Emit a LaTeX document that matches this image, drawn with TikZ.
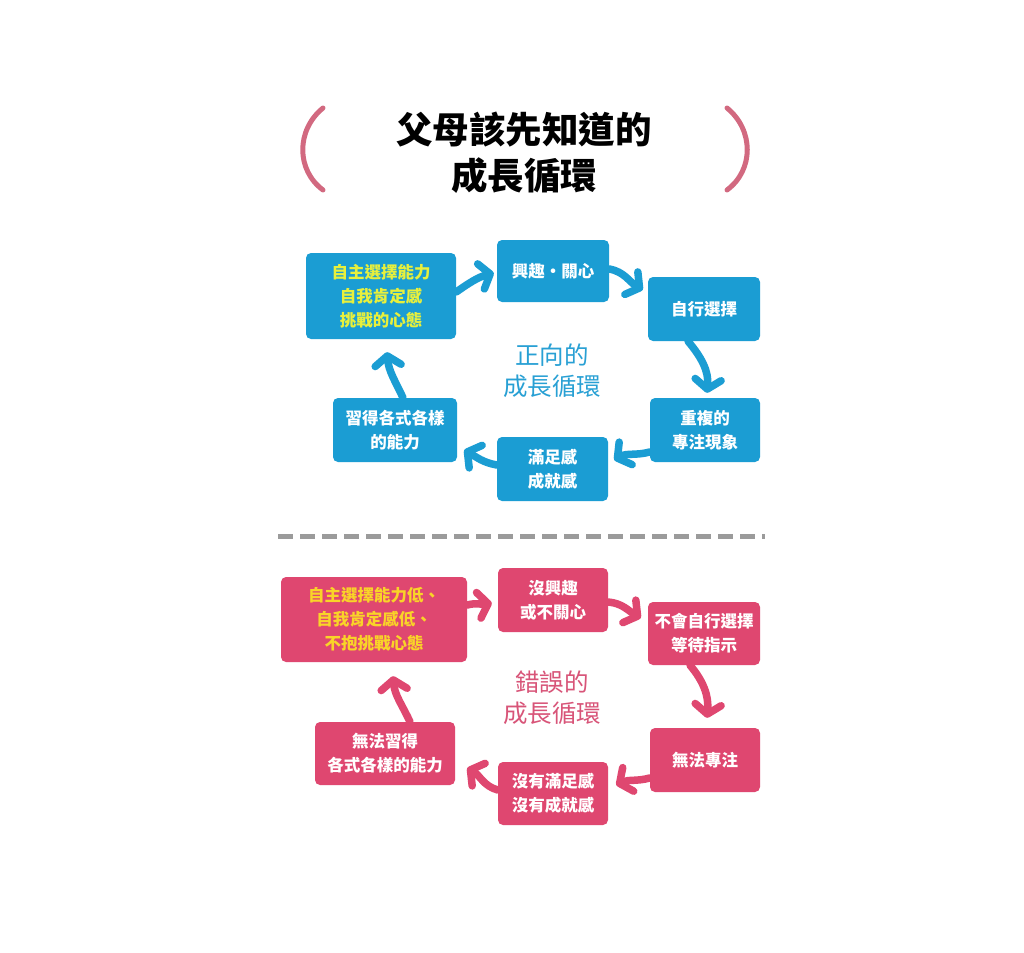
\documentclass[tikz,border=0pt]{standalone}
\usepackage{fontspec}
\setmainfont{Noto Sans CJK TC}
\usetikzlibrary{arrows.meta,calc}
\definecolor{cblue}{RGB}{27,157,211}
\definecolor{cpink}{RGB}{223,71,112}
\definecolor{cyel}{RGB}{232,240,60}
\definecolor{corange}{RGB}{249,212,40}
\definecolor{cparen}{RGB}{210,105,128}
\definecolor{cbluetxt}{RGB}{40,160,212}
\definecolor{cpinktxt}{RGB}{216,84,120}
\definecolor{cdash}{RGB}{155,155,155}
\tikzset{
 box/.style={rounded corners=5pt, align=center, inner sep=0pt, font=\fontsize{16.5}{24}\selectfont\bfseries, text=white},
 bbox/.style={box, fill=cblue},
 pbox/.style={box, fill=cpink},
 arr/.style={line width=7.5pt, line cap=round, -{Straight Barb[length=9.5pt,width=26pt,round]}},
 barr/.style={arr, draw=cblue},
 parr/.style={arr, draw=cpink},
 ctext/.style={align=center, font=\fontsize{24.5}{31}\selectfont},
 paren/.style={draw=cparen, line width=5pt, line cap=round},
}
\begin{document}
\begin{tikzpicture}[x=1pt,y=1pt]
\path[use as bounding box, fill=white] (0,0) rectangle (1024,-952);

% title
\draw[paren] (323,-108) .. controls (296,-130) and (296,-170) .. (323,-190);
\draw[paren] (727,-108) .. controls (754,-130) and (754,-170) .. (727,-190);
\node[align=center, font=\fontsize{36.5}{46}\selectfont\bfseries] (title) at (524,-153) {父母該先知道的\\成長循環};

% top cycle
\node[bbox, minimum width=150pt, minimum height=86pt, text=cyel] (A) at (381,-296) {自主選擇能力\\自我肯定感\\挑戰的心態};
\node[bbox, minimum width=112pt, minimum height=62pt] (B) at (553,-271) {興趣・關心};
\node[bbox, minimum width=112pt, minimum height=64pt] (C) at (704,-309) {自行選擇};
\node[bbox, minimum width=110pt, minimum height=64pt] (D) at (705,-430) {重複的\\專注現象};
\node[bbox, minimum width=111pt, minimum height=64pt] (E) at (552.5,-469) {滿足感\\成就感};
\node[bbox, minimum width=124pt, minimum height=64pt] (F) at (395,-430) {習得各式各樣\\的能力};
\node[ctext, text=cbluetxt] (tc) at (552,-371) {正向的\\成長循環};

\draw[barr] ($(A.east)+(0,4)$) to[out=35,in=195] ($(B.west)+(-3,-2)$);
\draw[barr] ($(B.east)+(0,2)$) to[out=-10,in=150] ($(C.north west)+(-5,-13)$);
\draw[barr] ($(C.south)+(-16,0)$) to[out=-50,in=85] ($(D.north)+(2,5)$);
\draw[barr] ($(D.west)+(0,-22)$) to[out=195,in=30] ($(E.east)+(6,9)$);
\draw[barr] ($(E.west)+(0,4)$) to[out=170,in=-30] ($(F.east)+(7,-20)$);
\draw[barr] ($(F.north)+(8,0)$) to[out=115,in=-85] ($(A.south)+(6,-13)$);

% separator
\coordinate (s1) at (278,-536);
\coordinate (s2) at (765,-536);
\draw[cdash, line width=5pt, dash pattern=on 15pt off 7pt] (s1) -- (s2);

% bottom cycle
\node[pbox, minimum width=186pt, minimum height=85pt, text=corange] (PA) at (374,-619.5) {自主選擇能力低、\\自我肯定感低、\\不抱挑戰心態};
\node[pbox, minimum width=110pt, minimum height=64pt] (PB) at (553,-600) {沒興趣\\或不關心};
\node[pbox, minimum width=112pt, minimum height=63pt] (PC) at (704,-633.5) {不會自行選擇\\等待指示};
\node[pbox, minimum width=110pt, minimum height=64pt] (PD) at (705,-760) {無法專注};
\node[pbox, minimum width=110pt, minimum height=63pt] (PE) at (553,-793.5) {沒有滿足感\\沒有成就感};
\node[pbox, minimum width=140pt, minimum height=63pt] (PF) at (385,-753.5) {無法習得\\各式各樣的能力};
\node[ctext, text=cpinktxt] (pc) at (552,-698) {錯誤的\\成長循環};

\draw[parr] ($(PA.east)+(0,14.5)$) to[out=15,in=190] ($(PB.west)+(-6,-3)$);
\draw[parr] ($(PB.east)+(0,-2)$) to[out=-5,in=150] ($(PC.west)+(-7,15.5)$);
\draw[parr] ($(PC.south)+(-14,0)$) to[out=-50,in=85] ($(PD.north)+(2,10)$);
\draw[parr] ($(PD.west)+(0,-18)$) to[out=195,in=25] ($(PE.east)+(8,8.5)$);
\draw[parr] ($(PE.west)+(0,3.5)$) to[out=165,in=-30] ($(PF.east)+(12,-14.5)$);
\draw[parr] ($(PF.north)+(25,0)$) to[out=115,in=-85] ($(PA.south)+(19,-14)$);
\end{tikzpicture}
\end{document}
